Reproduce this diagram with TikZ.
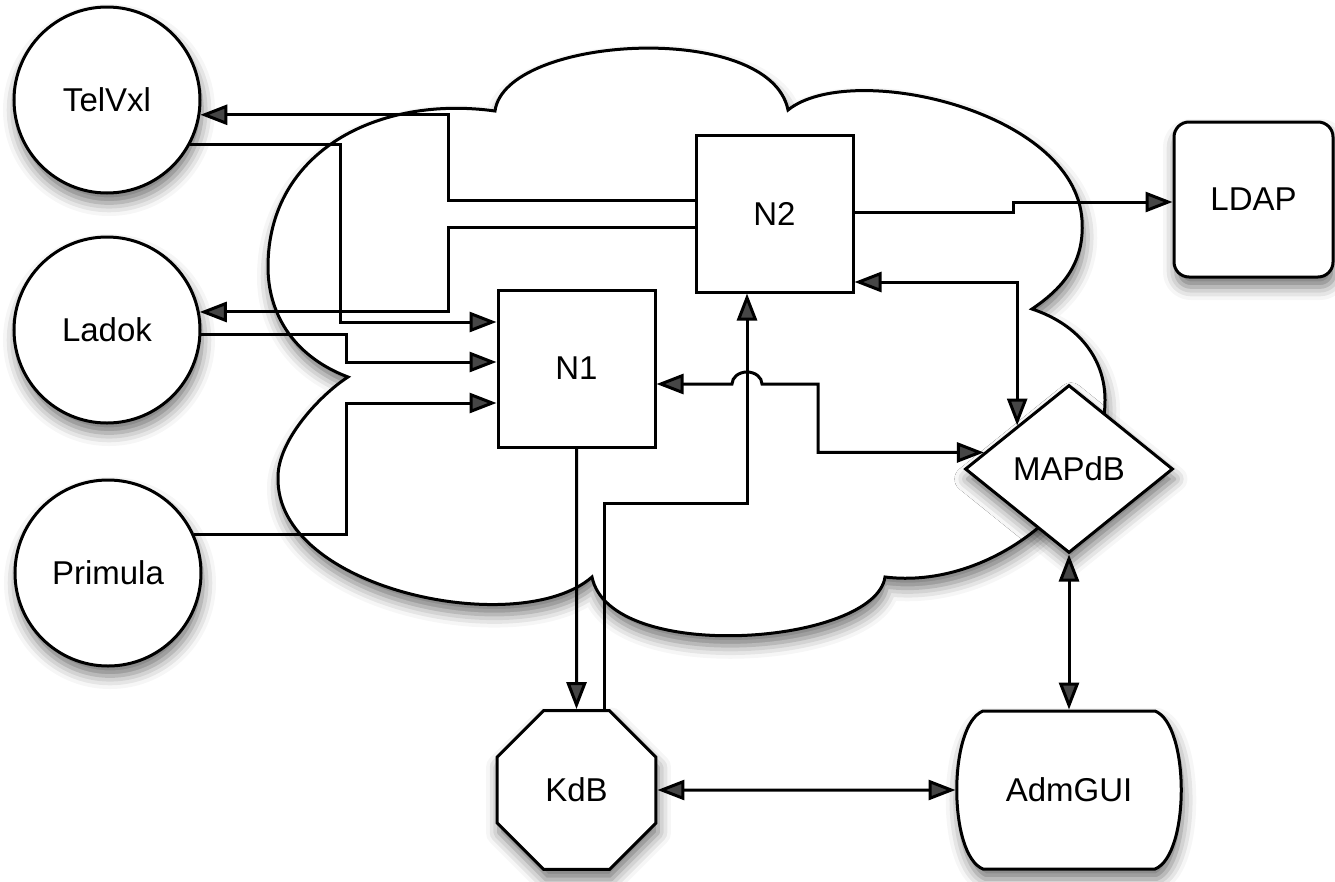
\documentclass[tikz,border=0pt]{standalone}
\usepackage{fontspec}
\setmainfont{Liberation Sans}
\usetikzlibrary{shapes.geometric,arrows.meta,shadows.blur}

\begin{document}
\begin{tikzpicture}[x=1pt, y=-1pt, line width=3pt, font=\fontsize{33}{40}\selectfont,
  >={Triangle[length=27pt,width=20pt]}]
  \tikzstyle{softshadow} = [blur shadow={shadow xshift=2pt, shadow yshift=-10pt,
  shadow blur radius=13pt, shadow opacity=55}]
  \tikzstyle{sys} = [circle, draw, fill=white, softshadow, minimum size=186pt, inner sep=0pt]
  \tikzstyle{proc} = [rectangle, draw, fill=white, minimum size=157pt, inner sep=0pt]
  \useasboundingbox (0,0) rectangle (1335,881);

  % Cloud
  \draw[fill=white, softshadow] (495,111) .. controls (505,35) and (770,20) .. (788,110)
    .. controls (850,60) and (1075,110) .. (1082,220)
    .. controls (1085,265) and (1060,290) .. (1032,309)
    .. controls (1080,325) and (1105,360) .. (1105,400)
    .. controls (1105,500) and (990,590) .. (885,577)
    .. controls (875,645) and (610,665) .. (592,577)
    .. controls (520,640) and (275,590) .. (278,477)
    .. controls (278,440) and (320,395) .. (348,377)
    .. controls (290,355) and (268,310) .. (268,267)
    .. controls (268,150) and (380,95) .. (495,111) -- cycle;

  % Define nodes
  \node[sys] (TelVxl) at (107,100) {TelVxl};
  \node[sys] (Ladok) at (107,330) {Ladok};
  \node[sys] (Primula) at (108,573) {Primula};
  \node[proc] (N2) at (774.5,213.5) {N2};
  \node[proc] (N1) at (576.5,368.5) {N1};
  \node[rectangle, rounded corners=15pt, draw, fill=white, softshadow,
    minimum width=159pt, minimum height=155pt] (LDAP) at (1253.5,199.5) {LDAP};
  \node[diamond, draw, fill=white, softshadow, minimum width=208pt,
    minimum height=168pt, inner sep=0pt] (MAPdB) at (1069,469) {MAPdB};
  \node[regular polygon, regular polygon sides=8, draw, fill=white, softshadow,
    minimum size=172pt, inner sep=0pt] (KdB) at (576.5,790) {KdB};
  \draw[fill=white, softshadow] (983,711) -- (1155,711)
    .. controls (1190,725) and (1190,855) .. (1155,869) -- (983,869)
    .. controls (948,855) and (948,725) .. (983,711) -- cycle;
  \node[minimum width=224pt, minimum height=158pt, inner sep=0pt] (AdmGUI) at (1069,790) {AdmGUI};

  % Define connectors
  \draw[<-] (TelVxl.-9) -| (448,200) -- (N2.west |- 0,200);
  \draw[->] (TelVxl.-28) -| (340,322) -- (N1.west |- 0,322);
  \draw[<-] (Ladok.11) -| (448,227) -- (N2.west |- 0,227);
  \draw[->] (Ladok.-3) -| (346,362) -- (N1.west |- 0,362);
  \draw[->] (Primula.24) -| (346,403) -- (N1.west |- 0,403);
  \path[->] (N1) edge (KdB);
  \draw[->] (KdB.north -| 604,0) |- (747,503) -- (N2.south -| 747,0);
  \draw[<->] (N1.east |- 0,384) -- (732,384)
    arc[start angle=180, end angle=0, x radius=15pt, y radius=12pt] -- (818,384) |- (MAPdB.169);
  \draw[<->] (N2.east |- 0,282) -| (MAPdB.140);
  \draw[->] (N2.east |- 0,212) -- (1013,212) |- (LDAP.west |- 0,202);
  \path[<->] (MAPdB) edge (AdmGUI);
  \path[<->] (KdB) edge (AdmGUI);
\end{tikzpicture}
\end{document}
